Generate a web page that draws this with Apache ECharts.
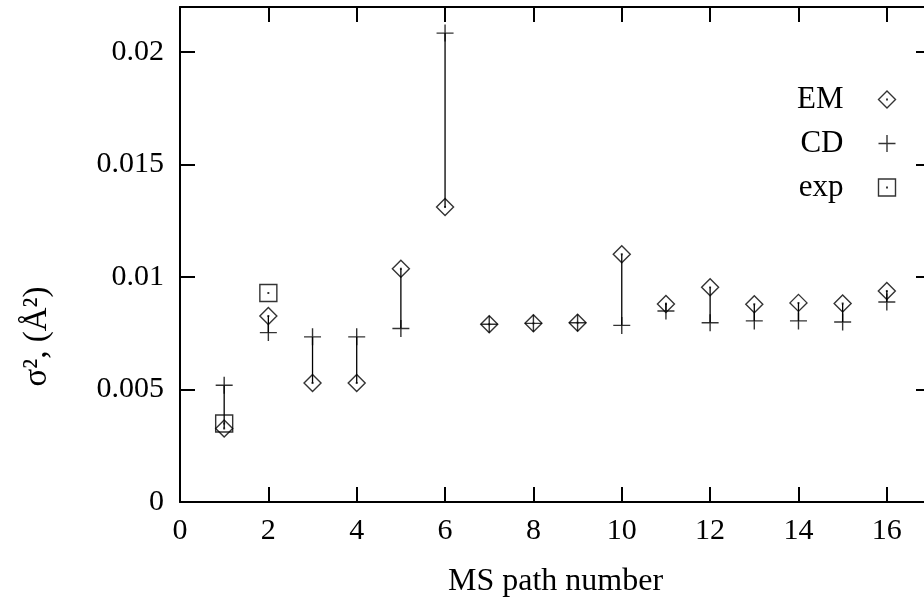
<!DOCTYPE html>
<html>
<head>
<meta charset="utf-8">
<script src="https://cdn.jsdelivr.net/npm/echarts@6/dist/echarts.min.js"></script>
<style>html,body{margin:0;padding:0;background:#fff}#c{width:924px;height:597px}</style>
</head>
<body>
<div id="c"></div>
<script>
// MS path numbers
var paths = [1, 2, 3, 4, 5, 6, 7, 8, 9, 10, 11, 12, 13, 14, 15, 16];
// EM model values (diamonds)
var emVals = [0.00327, 0.00827, 0.00529, 0.00529, 0.01037, 0.01311, 0.00790, 0.00794, 0.00797, 0.01101, 0.00880, 0.00954, 0.00879, 0.00885, 0.00882, 0.00938];
// CD model values (plus)
var cdVals = [0.00519, 0.00753, 0.00734, 0.00734, 0.00771, 0.02084, 0.00790, 0.00794, 0.00797, 0.00785, 0.00849, 0.00797, 0.00805, 0.00805, 0.00800, 0.00889];
// experiment (squares)
var expPaths = [1, 2];
var expVals = [0.00349, 0.00929];
// tick labels
var xTickLabels = ['0', '2', '4', '6', '8', '10', '12', '14', '16'];
var yTickLabels = ['0', '0.005', '0.01', '0.015', '0.02'];

var FONT = 'Liberation Serif';
var DIAMOND = 'path://M5,0L10,5L5,10L0,5Z M4.85,4.85L5.15,4.85L5.15,5.15L4.85,5.15Z';
var PLUS = 'path://M0,5L10,5M5,0L5,10';
var SQUARE = 'path://M0,0L10,0L10,10L0,10Z M4.85,4.85L5.15,4.85L5.15,5.15L4.85,5.15Z';

function xFmt(v) {
  for (var i = 0; i < xTickLabels.length; i++) if (Math.abs(Number(xTickLabels[i]) - v) < 1e-9) return xTickLabels[i];
  return '';
}
function yFmt(v) {
  for (var i = 0; i < yTickLabels.length; i++) if (Math.abs(Number(yTickLabels[i]) - v) < 1e-9) return yTickLabels[i];
  return '';
}

var emData = paths.map(function (p, i) { return [p, emVals[i]]; });
var cdData = paths.map(function (p, i) { return [p, cdVals[i]]; });
var expData = expPaths.map(function (p, i) { return [p, expVals[i]]; });
var segData = paths.map(function (p, i) { return [p, emVals[i], cdVals[i]]; });

var axisLineStyle = { color: '#000', width: 2 };
var tickStyle = { color: '#000', width: 2 };
var markStyle = { color: 'none', borderColor: '#000', borderWidth: 1.4 };

var chart = echarts.init(document.getElementById('c'), null, { renderer: 'canvas' });
chart.setOption({
  animation: false,
  backgroundColor: '#fff',
  grid: { left: 180, top: 7, right: -7, bottom: 95, containLabel: false, outerBoundsMode: 'none' },
  xAxis: [{
    type: 'value', min: 0, max: 17, interval: 2, position: 'bottom',
    axisLine: { show: true, onZero: false, lineStyle: axisLineStyle },
    axisTick: { show: true, inside: true, length: 15, lineStyle: tickStyle },
    splitLine: { show: false },
    axisLabel: { formatter: xFmt, color: '#000', fontFamily: FONT, fontSize: 30, margin: 14 },
    name: 'MS path number', nameLocation: 'middle', nameGap: 64,
    nameTextStyle: { color: '#000', fontFamily: FONT, fontSize: 32 }
  }, {
    type: 'value', min: 0, max: 17, interval: 2, position: 'top',
    axisLine: { show: true, onZero: false, lineStyle: axisLineStyle },
    axisTick: { show: true, inside: true, length: 15, lineStyle: tickStyle },
    splitLine: { show: false }, axisLabel: { show: false }
  }],
  yAxis: [{
    type: 'value', min: 0, max: 0.022, interval: 0.005, position: 'left',
    axisLine: { show: true, onZero: false, lineStyle: axisLineStyle },
    axisTick: { show: true, inside: true, length: 15, lineStyle: tickStyle },
    splitLine: { show: false },
    axisLabel: { formatter: yFmt, color: '#000', fontFamily: FONT, fontSize: 30, margin: 16 },
    name: 'σ², (Å²)', nameLocation: 'middle', nameGap: 126, nameRotate: 90,
    nameTextStyle: { color: '#000', fontFamily: FONT, fontSize: 33, padding: [0, 164, 0, 0] }
  }, {
    type: 'value', min: 0, max: 0.022, interval: 0.005, position: 'right',
    axisLine: { show: true, onZero: false, lineStyle: axisLineStyle },
    axisTick: { show: true, inside: true, length: 15, lineStyle: tickStyle },
    splitLine: { show: false }, axisLabel: { show: false }
  }],
  legend: {
    orient: 'vertical', right: 21, top: 79, align: 'right',
    itemWidth: 17, itemHeight: 17, itemGap: 13,
    textStyle: { color: '#000', fontFamily: FONT, fontSize: 31, lineHeight: 31, width: 60, align: 'right', padding: [0, 30, 0, 0] },
    data: [
      { name: 'EM', icon: DIAMOND, itemStyle: markStyle },
      { name: 'CD', icon: PLUS, itemStyle: markStyle },
      { name: 'exp', icon: SQUARE, itemStyle: markStyle }
    ]
  },
  series: [{
    type: 'custom', name: 'seg', xAxisIndex: 0, yAxisIndex: 0, silent: true,
    data: segData, encode: { x: 0, y: [1, 2] },
    renderItem: function (params, api) {
      var a = api.coord([api.value(0), api.value(1)]);
      var b = api.coord([api.value(0), api.value(2)]);
      return { type: 'line', shape: { x1: a[0], y1: a[1], x2: b[0], y2: b[1] }, style: { stroke: '#000', lineWidth: 1.3 } };
    }
  }, {
    type: 'scatter', name: 'EM', data: emData, symbol: DIAMOND, symbolSize: 17,
    itemStyle: markStyle
  }, {
    type: 'scatter', name: 'CD', data: cdData, symbol: PLUS, symbolSize: 17,
    itemStyle: markStyle
  }, {
    type: 'scatter', name: 'exp', data: expData, symbol: SQUARE, symbolSize: 17,
    itemStyle: markStyle
  }]
});
</script>
</body>
</html>
